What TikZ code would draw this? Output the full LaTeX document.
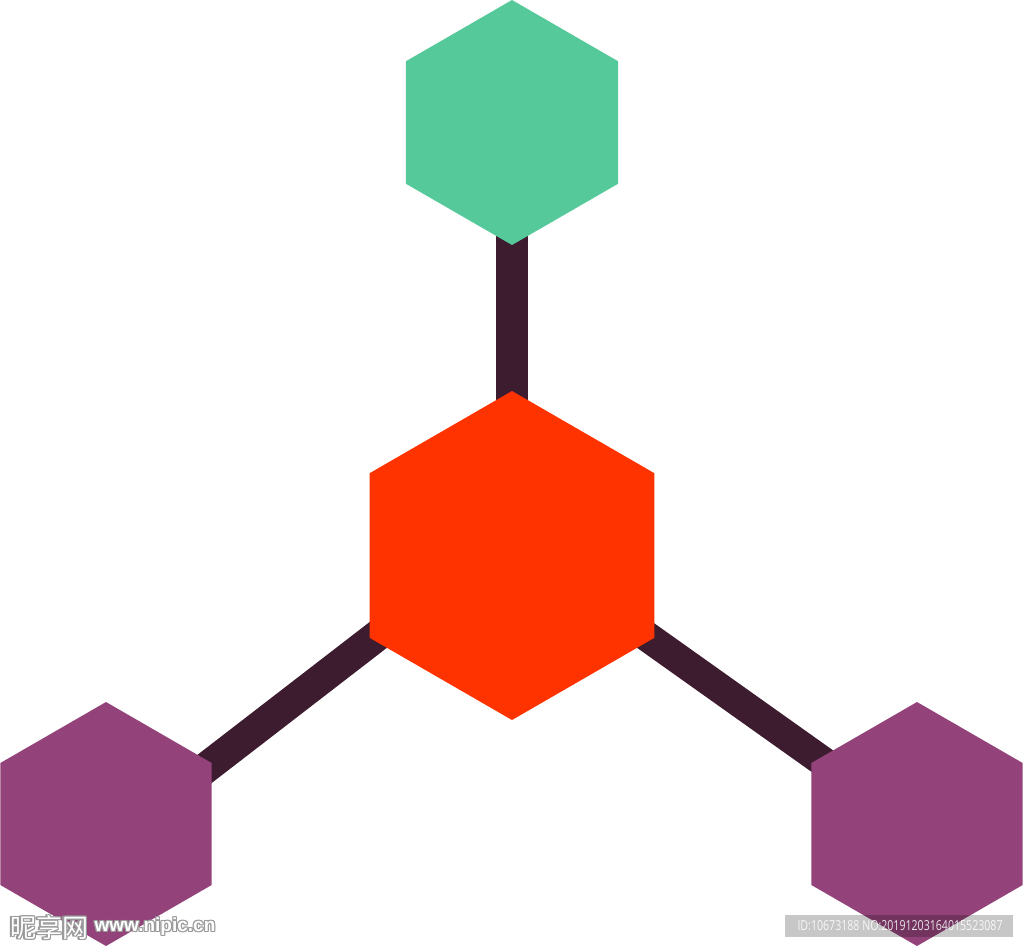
\documentclass[tikz,border=0pt]{standalone}
\usepackage{fontspec}
\setmainfont{Open Sans}
\newfontfamily\cjkwm{Noto Sans CJK SC}
\newfontfamily\wmsans{Liberation Sans}
\usetikzlibrary{shapes.geometric,backgrounds}
\definecolor{hexgreen}{HTML}{56C99A}
\definecolor{hexred}{HTML}{FF3300}
\definecolor{hexpurple}{HTML}{93437A}
\definecolor{barcol}{HTML}{3D1C30}
\definecolor{wmgray}{HTML}{9A9A9A}
\tikzset{
  hexbox/.style={regular polygon, regular polygon sides=6, shape border rotate=30, draw=none, inner sep=0pt, outer sep=0pt},
  barline/.style={line width=31pt, draw=barcol},
  wmtext/.style={inner sep=0pt, anchor=center}
}
\begin{document}
\begin{tikzpicture}[x=1pt,y=-1pt]
\useasboundingbox (0,0) rectangle (1024,947);
% hexagons
\node[hexbox, fill=hexgreen,  minimum size=245pt] (hexTop)    at (512,122.5) {};
\node[hexbox, fill=hexred,    minimum size=329pt] (hexCenter) at (512,555.5) {};
\node[hexbox, fill=hexpurple, minimum size=244pt] (hexLeft)   at (106,824) {};
\node[hexbox, fill=hexpurple, minimum size=244pt] (hexRight)  at (917,824) {};
% hidden bar ends
\coordinate (lA) at (430,595);
\coordinate (lB) at (150,811);
\coordinate (rA) at (590,596);
\coordinate (rB) at (870,795);
\begin{scope}[on background layer]
  \draw[barline, line width=32pt] (hexTop.center) -- (hexCenter.center);
  \draw[barline] (lA) -- (lB);
  \draw[barline, line width=30pt] (rA) -- (rB);
\end{scope}
% watermark left
\foreach \dx/\dy [count=\i] in {-1/0,1/0,0/-1,0/1,-1/-1,1/1,-1/1,1/-1}{
  \node[wmtext, text=wmgray] (wmcnO\i) at (49+\dx,928+\dy) {\cjkwm\fontsize{26}{26}\selectfont 昵享网};
  \node[wmtext, text=wmgray] (wmurlO\i) at (155+\dx,927+\dy) {\wmsans\bfseries\fontsize{19}{19}\selectfont www.nipic.cn};
}
\node[wmtext, text=white] (wmcn) at (49,928) {\cjkwm\fontsize{26}{26}\selectfont 昵享网};
\node[wmtext, text=white] (wmurl) at (155,927) {\wmsans\bfseries\fontsize{19}{19}\selectfont www.nipic.cn};
% watermark right
\node[fill=black, fill opacity=0.22, minimum width=228pt, minimum height=22pt, inner sep=0pt] (idbox) at (899,926) {};
\node[wmtext, text=white, text opacity=0.85] (idtext) at (900,926) {\resizebox{205pt}{10pt}{ID:10673188 NO:20191203164015523087}};
\end{tikzpicture}
\end{document}
